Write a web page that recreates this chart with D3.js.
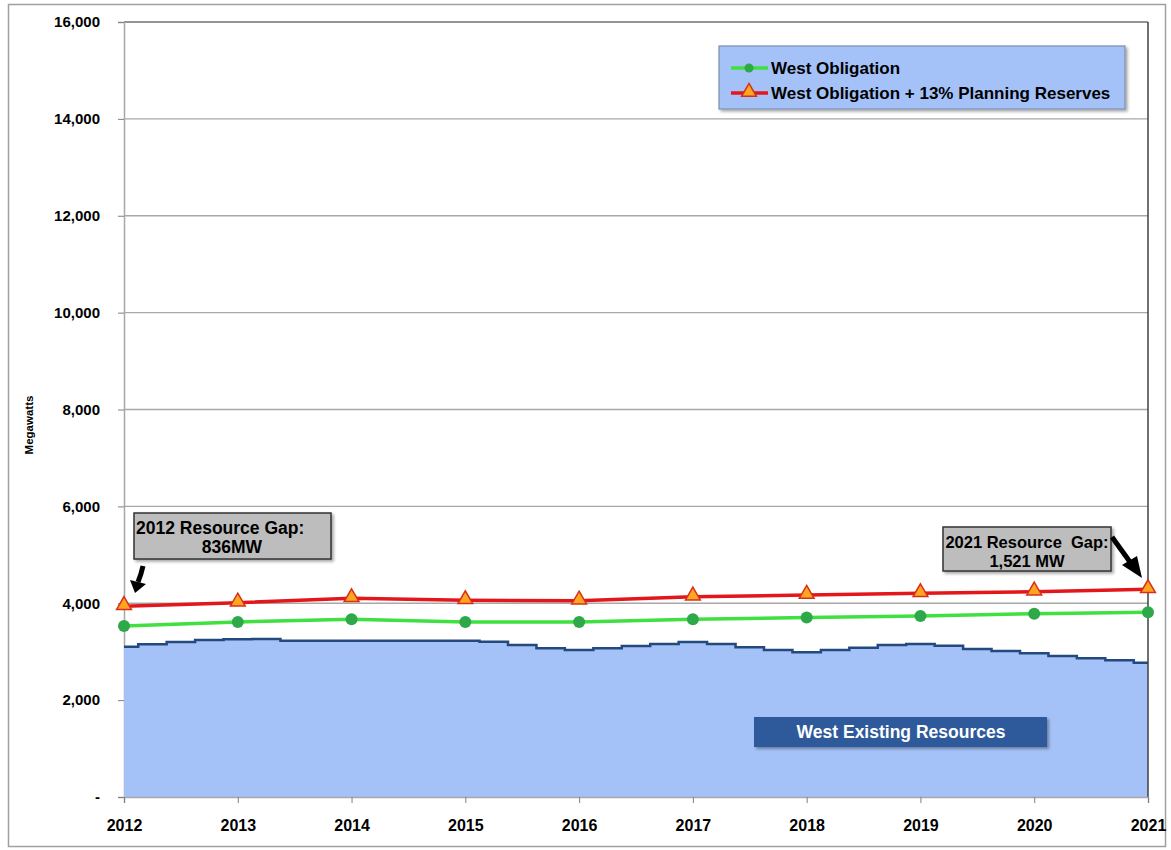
<!DOCTYPE html>
<html>
<head>
<meta charset="utf-8">
<script src="https://cdn.jsdelivr.net/npm/d3@7"></script>
<style>
  body { margin: 0; background: #fff; }
  text { font-family: "Liberation Sans", Arial, sans-serif; font-weight: bold; white-space: pre; }
</style>
</head>
<body>
<div id="chart"></div>
<script>
const years = [2012, 2013, 2014, 2015, 2016, 2017, 2018, 2019, 2020, 2021];
const obligation = [3530, 3613, 3668, 3613, 3613, 3668, 3706, 3737, 3785, 3813];
const reserves = [3940, 4011, 4102, 4060, 4053, 4136, 4170, 4205, 4239, 4287];
// existing resources
const resources = [
  3103, 3152, 3200, 3241,
  3256, 3262, 3227, 3227,
  3227, 3227, 3227, 3227,
  3227, 3207, 3138, 3069,
  3035, 3069, 3117, 3159,
  3200, 3159, 3090, 3035,
  2990, 3035, 3083, 3138,
  3159, 3124, 3055, 3014,
  2966, 2911, 2862, 2821,
  2773
];
const resourceDates = resources.map((d, i) => 2012 + i / 4);
const yTicks = [0, 2000, 4000, 6000, 8000, 10000, 12000, 14000, 16000];

const W = 1171, H = 850;
const margin = {top: 22, right: 23, bottom: 53, left: 124};

const svg = d3.select("#chart").append("svg")
  .attr("width", W).attr("height", H);

const defs = svg.append("defs");
const shadow = defs.append("filter").attr("id", "shadow")
  .attr("x", "-10%").attr("y", "-20%").attr("width", "130%").attr("height", "160%");
shadow.append("feDropShadow").attr("dx", 2).attr("dy", 2).attr("stdDeviation", 1.5)
  .attr("flood-color", "#000").attr("flood-opacity", 0.35);

// outer frame
svg.append("rect").attr("x", 8.5).attr("y", 4.5).attr("width", 1157).attr("height", 842)
  .attr("fill", "none").attr("stroke", "#a0a0a0").attr("stroke-width", 1.5);

const x = d3.scaleLinear().domain([2012, 2021]).range([margin.left, W - margin.right]);
const y = d3.scaleLinear().domain([0, 16000]).range([H - margin.bottom, margin.top]);

// gridlines
svg.append("g").selectAll("line").data(yTicks.slice(1)).join("line")
  .attr("x1", x(2012)).attr("x2", x(2021))
  .attr("y1", d => y(d)).attr("y2", d => y(d))
  .attr("stroke", d => d === 16000 ? "#707070" : "#a8a8a8").attr("stroke-width", 1.3);

// y axis
const yAxis = svg.append("g").attr("transform", `translate(${margin.left},0)`)
  .call(d3.axisLeft(y).tickValues(yTicks).tickSize(6).tickPadding(18)
    .tickFormat(d => d === 0 ? "-" : d3.format(",")(d)));
yAxis.select(".domain").attr("stroke", "#a8a8a8").attr("stroke-width", 1.5);
yAxis.selectAll(".tick line").attr("stroke", "#808080");
yAxis.selectAll("text").attr("font-size", 15).attr("fill", "#000")
  .attr("font-family", "Liberation Sans, Arial, sans-serif");

svg.append("text").attr("transform", `translate(33,425) rotate(-90)`)
  .attr("text-anchor", "middle").attr("font-size", 11.5).text("Megawatts");

// resources area
svg.append("path").datum(resources)
  .attr("fill", "#a4c2f8")
  .attr("d", d3.area().curve(d3.curveStep)
    .x((d, i) => x(resourceDates[i])).y0(y(0)).y1(d => y(d)));
svg.append("path").datum(resources)
  .attr("fill", "none").attr("stroke", "#24497e").attr("stroke-width", 2.5)
  .attr("d", d3.line().curve(d3.curveStep)
    .x((d, i) => x(resourceDates[i])).y(d => y(d)));

// right border of plot
svg.append("line").attr("x1", x(2021)).attr("x2", x(2021))
  .attr("y1", y(16000)).attr("y2", y(0)).attr("stroke", "#404040").attr("stroke-width", 1.5);

// x axis
const xAxis = svg.append("g").attr("transform", `translate(0,${y(0)})`)
  .call(d3.axisBottom(x).tickValues(years).tickFormat(d3.format("d")).tickSize(6).tickPadding(17));
xAxis.select(".domain").attr("stroke", "#a8a8a8").attr("stroke-width", 1.5);
xAxis.selectAll(".tick line").attr("stroke", "#808080");
xAxis.selectAll("text").attr("font-size", 16).attr("fill", "#000")
  .attr("font-family", "Liberation Sans, Arial, sans-serif");

// lines
const line = d3.line().x((d, i) => x(years[i])).y(d => y(d));
svg.append("path").datum(obligation).attr("fill", "none")
  .attr("stroke", "#3fe03f").attr("stroke-width", 3.5).attr("d", line);
svg.append("path").datum(reserves).attr("fill", "none")
  .attr("stroke", "#e3161b").attr("stroke-width", 3.5).attr("d", line);

svg.append("g").selectAll("circle").data(obligation).join("circle")
  .attr("cx", (d, i) => x(years[i])).attr("cy", d => y(d)).attr("r", 6)
  .attr("fill", "#2fa84a");

const tri = d3.symbol().type(d3.symbolTriangle).size(95);
svg.append("g").selectAll("path").data(reserves).join("path")
  .attr("transform", (d, i) => `translate(${x(years[i])},${y(d) - 1})`)
  .attr("d", tri).attr("fill", "#ffa51f").attr("stroke", "#d6301c").attr("stroke-width", 1.5);

// legend
const lg = svg.append("g");
lg.append("rect").attr("x", 719).attr("y", 46).attr("width", 406).attr("height", 63)
  .attr("fill", "#a4c2f8").attr("stroke", "#7a8fb0").attr("stroke-width", 1.2)
  .attr("filter", "url(#shadow)");
lg.append("line").attr("x1", 731).attr("x2", 768).attr("y1", 68).attr("y2", 68)
  .attr("stroke", "#3fe03f").attr("stroke-width", 3.5);
lg.append("circle").attr("cx", 749).attr("cy", 68).attr("r", 4.5).attr("fill", "#2fa84a");
lg.append("text").attr("x", 771).attr("y", 74).attr("font-size", 17).text("West Obligation");
lg.append("line").attr("x1", 731).attr("x2", 768).attr("y1", 93).attr("y2", 93)
  .attr("stroke", "#e3161b").attr("stroke-width", 3.5);
lg.append("path").attr("transform", "translate(749,92)").attr("d", tri)
  .attr("fill", "#ffa51f").attr("stroke", "#d6301c").attr("stroke-width", 1.5);
lg.append("text").attr("x", 771).attr("y", 99).attr("font-size", 17)
  .text("West Obligation + 13% Planning Reserves");

// resources label
svg.append("rect").attr("x", 754).attr("y", 717).attr("width", 293).attr("height", 30)
  .attr("fill", "#2d5a9b").attr("filter", "url(#shadow)");
svg.append("text").attr("x", 901).attr("y", 738).attr("text-anchor", "middle")
  .attr("font-size", 17.5).attr("fill", "#fff").text("West Existing Resources");

// gap annotations
function callout(bx, by, bw, bh, lines, textX, anchor, size) {
  svg.append("rect").attr("x", bx).attr("y", by).attr("width", bw).attr("height", bh)
    .attr("fill", "#bdbdbd").attr("stroke", "#333").attr("stroke-width", 1.5)
    .attr("filter", "url(#shadow)");
  lines.forEach((t, i) => {
    svg.append("text").attr("x", textX[i]).attr("y", by + 21 + i * 19)
      .attr("text-anchor", anchor[i]).attr("font-size", size).text(t);
  });
}
callout(134, 513, 197, 46, ["2012 Resource Gap:", "836MW"], [136, 232], ["start", "middle"], 17.5);
callout(943, 527, 168, 44, ["2021 Resource  Gap:", "1,521 MW"], [1027, 1027], ["middle", "middle"], 16.5);

// arrows
svg.append("path").attr("d", "M143,566 Q141,575 138,582")
  .attr("fill", "none").attr("stroke", "#000").attr("stroke-width", 5);
svg.append("path").attr("d", "M130,580 L146,584 L135,593 Z").attr("fill", "#000");
svg.append("path").attr("d", "M1112,537 L1130,562")
  .attr("fill", "none").attr("stroke", "#000").attr("stroke-width", 5);
svg.append("path").attr("d", "M1122,565 L1137,556 L1142,578 Z").attr("fill", "#000");
</script>
</body>
</html>
